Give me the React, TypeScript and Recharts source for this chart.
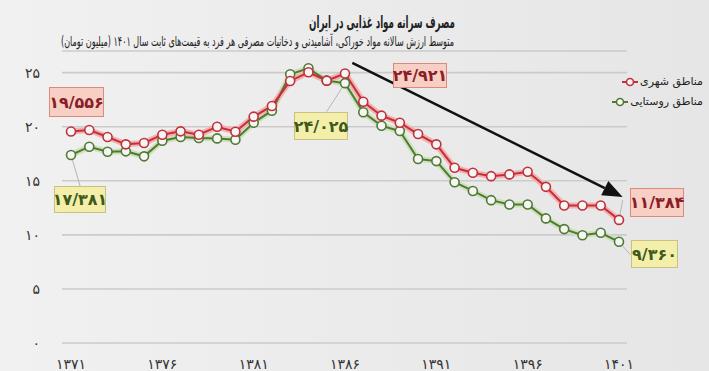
import React from "react";
import { LineChart, Line, XAxis, YAxis, CartesianGrid, ReferenceLine } from "recharts";

const years = [
  1371, 1372, 1373, 1374, 1375, 1376, 1377, 1378, 1379, 1380, 1381, 1382, 1383, 1384, 1385, 1386,
  1387, 1388, 1389, 1390, 1391, 1392, 1393, 1394, 1395, 1396, 1397, 1398, 1399, 1400, 1401,
];
// urban areas (مناطق شهری)
const urban = [
  19.556, 19.69, 19.05, 18.37, 18.49, 19.26, 19.57, 19.26, 20.0, 19.54, 20.93, 21.92, 24.23, 25.03,
  24.26, 24.921, 22.31, 21.02, 20.37, 19.32, 18.37, 16.2, 15.74, 15.43, 15.59, 15.83, 14.44, 12.72,
  12.72, 12.72, 11.384,
];
// rural areas (مناطق روستایی)
const rural = [
  17.381, 18.15, 17.69, 17.72, 17.26, 18.7, 19.05, 18.95, 18.92, 18.8, 20.37, 21.48, 24.85, 25.4,
  24.26, 24.025, 21.33, 20.09, 19.6, 17.01, 16.82, 14.87, 14.06, 13.21, 12.81, 12.81, 11.52, 10.53,
  9.97, 10.19, 9.36,
];
const yTicks = [0, 5, 10, 15, 20, 25];
const xTicks = [1371, 1376, 1381, 1386, 1391, 1396, 1401];

const data = years.map((y, i) => ({ year: y, urban: urban[i], rural: rural[i] }));

const FONT = "'DejaVu Sans', 'Noto Sans', sans-serif";
const RED = "#c2303a";
const RED_GLOW = "#f2b1b0";
const GREEN = "#4e7a32";
const GREEN_GLOW = "#cfe0bd";

const fa = (v: number | string) => String(v).replace(/\d/g, (d) => "۰۱۲۳۴۵۶۷۸۹"[+d]);
const faNum = (v: number) => fa(v.toFixed(3)).replace(".", "/");

function YTick({ x, y, payload }: any) {
  return (
    <text x={x - 14} y={y} dy={5} textAnchor="end" fontSize={14} fill="#333" fontFamily={FONT}>
      {fa(payload.value)}
    </text>
  );
}

function XTick({ x, y, payload }: any) {
  return (
    <text x={x} y={y} dy={18} textAnchor="middle" fontSize={14} fill="#333" fontFamily={FONT}>
      {fa(payload.value)}
    </text>
  );
}

function ArrowShape(props: any) {
  const { x1, y1, x2, y2 } = props;
  const ang = Math.atan2(y2 - y1, x2 - x1);
  const len = 20;
  const w = 8;
  const bx = x2 - len * Math.cos(ang);
  const by = y2 - len * Math.sin(ang);
  const px = -Math.sin(ang) * w;
  const py = Math.cos(ang) * w;
  return (
    <g>
      <line x1={x1} y1={y1} x2={bx} y2={by} stroke="#111" strokeWidth={2.6} />
      <polygon points={`${x2},${y2} ${bx + px},${by + py} ${bx - px},${by - py}`} fill="#111" />
    </g>
  );
}

function Box({ left, top, w, h, value, kind }: any) {
  const red = kind === "red";
  return (
    <div
      style={{
        position: "absolute",
        left,
        top,
        width: w,
        height: h,
        boxSizing: "border-box",
        background: red ? "#f7cfc4" : "#f3efab",
        border: `1px solid ${red ? "#dd8a7c" : "#c9c184"}`,
        color: red ? "#8a1d26" : "#3e5a1b",
        fontFamily: FONT,
        fontWeight: 700,
        fontSize: 16,
        display: "flex",
        alignItems: "center",
        justifyContent: "center",
        direction: "ltr",
      }}
    >
      {faNum(value)}
    </div>
  );
}

function LegendItem({ top, color, label }: any) {
  return (
    <div
      style={{
        position: "absolute",
        right: 6,
        top,
        display: "flex",
        alignItems: "center",
        gap: 2,
        fontFamily: FONT,
        fontSize: 11,
        color: "#222",
      }}
    >
      <svg width={16} height={10}>
        <line x1={0} y1={5} x2={16} y2={5} stroke={color} strokeWidth={2} />
        <circle cx={8} cy={5} r={3.5} fill="#f4f4f4" stroke={color} strokeWidth={1.6} />
      </svg>
      <span style={{ direction: "rtl" }}>{label}</span>
    </div>
  );
}

const dot = (c: string) => ({ r: 4.5, fill: "#f5f5f5", stroke: c, strokeWidth: 1.6 });

export default function App() {
  const last = years.length - 1;
  return (
    <div
      style={{
        position: "absolute",
        left: 0,
        top: 0,
        width: 709,
        height: 371,
        background: "linear-gradient(90deg, #f1f1f1 0%, #ebebeb 50%, #e6e6e6 100%)",
        overflow: "hidden",
      }}
    >
      <svg width={709} height={60} style={{ position: "absolute", left: 0, top: 0 }}>
        <text
          x={382}
          y={28}
          textAnchor="middle"
          direction="rtl"
          fontFamily={FONT}
          fontSize={17}
          fontWeight={700}
          fill="#222"
          textLength={146}
          lengthAdjust="spacingAndGlyphs"
        >
          مصرف سرانه مواد غذایی در ایران
        </text>
        <text
          x={257.5}
          y={46}
          textAnchor="middle"
          direction="rtl"
          fontFamily={FONT}
          fontSize={13.5}
          fill="#222"
          textLength={393}
          lengthAdjust="spacingAndGlyphs"
        >
          متوسط ارزش سالانه مواد خوراکی، آشامیدنی و دخانیات مصرفی هر فرد به قیمت‌های ثابت سال ۱۴۰۱ (میلیون تومان)
        </text>
      </svg>

      <LineChart
        width={709}
        height={371}
        data={data}
        margin={{ top: 51, right: 82, bottom: 0, left: 0 }}
        style={{ position: "absolute", left: 0, top: 0 }}
      >
        <CartesianGrid vertical={false} stroke="#cbcbcb" strokeWidth={1.6} />
        <XAxis
          dataKey="year"
          type="number"
          domain={[1371, 1401]}
          ticks={xTicks}
          padding={{ left: 9, right: 8 }}
          axisLine={false}
          tickLine={false}
          height={28}
          tick={<XTick />}
          interval={0}
        />
        <YAxis
          type="number"
          domain={[0, 27]}
          ticks={yTicks}
          width={62}
          axisLine={false}
          tickLine={false}
          tick={<YTick />}
          interval={0}
        />
        {/* leader lines from the value boxes to their points */}
        <ReferenceLine
          segment={[{ x: years[0], y: rural[0] }, { x: 1371.5, y: 14.5 }]}
          stroke="#b5b5b5"
          strokeWidth={1}
          ifOverflow="visible"
        />
        <ReferenceLine
          segment={[{ x: years[15], y: rural[15] }, { x: 1385, y: 21.4 }]}
          stroke="#b5b5b5"
          strokeWidth={1}
          ifOverflow="visible"
        />
        <ReferenceLine
          segment={[{ x: years[last], y: urban[last] }, { x: 1401.2, y: 13.2 }]}
          stroke="#b5b5b5"
          strokeWidth={1}
          ifOverflow="visible"
        />
        <ReferenceLine
          segment={[{ x: years[last], y: rural[last] }, { x: 1401.6, y: 8.2 }]}
          stroke="#b5b5b5"
          strokeWidth={1}
          ifOverflow="visible"
        />
        <Line dataKey="rural" stroke={GREEN_GLOW} strokeWidth={6} dot={false} activeDot={false} isAnimationActive={false} />
        <Line dataKey="urban" stroke={RED_GLOW} strokeWidth={6} dot={false} activeDot={false} isAnimationActive={false} />
        <Line dataKey="rural" stroke={GREEN} strokeWidth={2} dot={dot(GREEN)} activeDot={false} isAnimationActive={false} />
        <Line dataKey="urban" stroke={RED} strokeWidth={2} dot={dot(RED)} activeDot={false} isAnimationActive={false} />
        <ReferenceLine
          segment={[{ x: 1386.4, y: 25.9 }, { x: 1401.2, y: 13.5 }]}
          ifOverflow="visible"
          shape={ArrowShape}
        />
      </LineChart>

      <Box left={49} top={87} w={55} h={30} value={urban[0]} kind="red" />
      <Box left={54} top={186} w={52} h={27} value={rural[0]} kind="yellow" />
      <Box left={294} top={112} w={54} h={28} value={rural[15]} kind="yellow" />
      <Box left={393} top={63} w={54} h={25} value={urban[15]} kind="red" />
      <Box left={630} top={188} w={54} h={29} value={urban[last]} kind="red" />
      <Box left={631} top={240} w={47} h={28} value={rural[last]} kind="yellow" />

      <LegendItem top={75} color={RED} label="مناطق شهری" />
      <LegendItem top={95} color={GREEN} label="مناطق روستایی" />
    </div>
  );
}
